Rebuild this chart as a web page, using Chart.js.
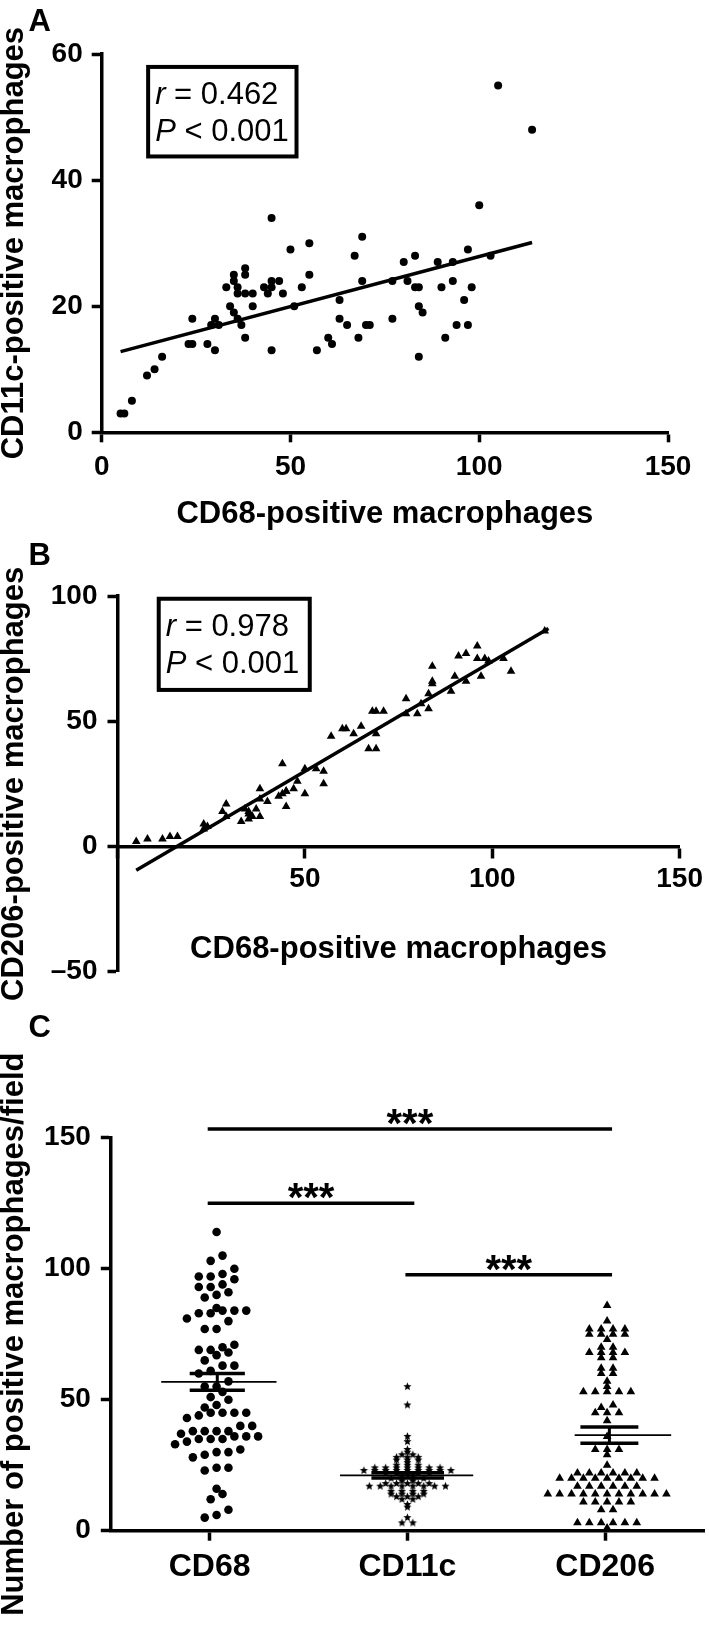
<!DOCTYPE html>
<html>
<head>
<meta charset="utf-8">
<script src="https://cdn.jsdelivr.net/npm/chart.js@4.4.1/dist/chart.umd.min.js"></script>
<style>
  html, body { margin:0; padding:0; background:#ffffff; }
  #page { position:relative; width:709px; height:1625px; background:#ffffff; overflow:hidden; }
  #page canvas { position:absolute; left:0; }
</style>
</head>
<body>
<div id="page">
  <canvas id="chartA" width="709" height="545" style="top:0px"></canvas>
  <canvas id="chartB" width="709" height="471" style="top:529px"></canvas>
  <canvas id="chartC" width="709" height="625" style="top:1000px"></canvas>
</div>
<script>
// ================= DATA =================
// Panel A: CD68 (x) vs CD11c (y)
const cd68A = [5,6,8,12,14,16,23,24,24,28,30,29,30,31,33,34,35,35,35,36,36,36,37,38,38,38,38,40,40,43,44,45,45,45,45,47,48,50,51,53,55,55,57,60,61,63,63,65,67,68,69,69,70,71,77,77,80,81,83,83,84,84,84,85,89,90,91,93,93,94,96,97,97,98,100,103,105,114];
const cd11cA = [3,3,5,9,10,12,14,14,18,14,13,17,18,17,23,20,25,24,19,23,22,18,17,26,25,22,15,22,20,23,22,34,24,23,13,24,22,29,20,23,30,25,13,15,14,21,18,17,28,15,31,24,17,17,24,18,27,24,28,23,23,20,12,19,27,23,15,27,24,17,21,29,17,23,36,28,55,48];
const regAx = [5, 114];
const regAy = [12.8, 30.1];
const statA = [['r', ' = 0.462'], ['P', ' < 0.001']];

// Panel B: CD68 (x) vs CD206 (y)
const cd68B = [5,8,12,14,16,23,23,24,28,29,29,33,34,35,35,35,36,37,38,38,38,40,43,44,44,45,45,45,47,48,50,50,53,55,55,57,60,61,63,65,67,68,69,69,69,71,77,77,80,81,83,83,84,84,84,89,90,91,93,93,96,96,97,98,99,103,105,114];
const cd206B = [2,3,3,4,4,9,7,8,14,17,12,10,15,13,11,14,12,15,23,12,19,18,20,21,33,22,16,22,23,26,21,31,31,30,25,44,47,47,45,48,39,54,39,45,54,54,59,53,53,57,55,61,72,65,66,62,68,76,66,77,75,80,68,75,74,75,70,86];
const regBx = [5, 115];
const regBy = [-9.5, 87];
const statB = [['r', ' = 0.978'], ['P', ' < 0.001']];

// Panel C: counts per field
const categories = ['CD68', 'CD11c', 'CD206'];
const cd206C = [86,80,77,77,77,77,75,75,75,75,73,70,70,68,68,68,68,66,66,62,62,60,60,57,55,53,53,53,53,53,48,47,45,45,45,42,36,31,31,31,29,25,22,22,22,22,22,22,20,20,20,20,20,20,20,20,20,17,17,17,17,17,17,14,14,14,14,14,14,14,14,14,14,14,11,11,11,11,11,8,8,3,3,3,3,3,3,1];
const columnValues = [cd68A, cd11cA, cd206C];
const means = [56.8, 21.1, 36.5];
const sems = [3.2, 1.0, 3.1];
const sigFrom = [0, 0, 1];
const sigTo = [2, 1, 2];
const sigY = [153.3, 125, 97.7];
const sigText = ['***', '***', '***'];

// Axis titles
const xTitleAB = 'CD68-positive macrophages';
const yTitleA = 'CD11c-positive macrophages';
const yTitleB = 'CD206-positive macrophages';
const yTitleC = 'Number of positive macrophages/field';

// ================= STYLE =================
const FONT = "'Liberation Sans', Arial, Helvetica, sans-serif";
const NARROW = "'Liberation Sans Narrow', 'Arial Narrow', 'Liberation Sans', Arial, sans-serif";
Chart.defaults.font.family = FONT;
Chart.defaults.color = '#000';

const boxA = [12.3, 51.6, 57.95, 43.75];   // x0, x1, yTop, yBottom (data units)
const boxB = [11.0, 51.3, 98.9, 62.5];
const meanExt = [[-0.245, 0.338], [-0.341, 0.333], [-0.154, 0.334]];
const semExt = [[-0.101, 0.178], [-0.182, 0.185], [-0.125, 0.168]];
const swarmShift = [0.035, 0, 0.01];
const swarmBin = [3.5, 1, 1.5];
const swarmGap = [0.06, 0.055, 0.06];
const sigExt = [-0.01, 0.035];

const tickFont = {size: 28, weight: 'bold', family: NARROW};

function axisBase(extra) {
  return Object.assign({
    type: 'linear',
    border: {display: true, color: '#000', width: 3.5},
    grid: {display: true, drawOnChartArea: false, drawTicks: true, tickLength: 10, tickWidth: 3.5, tickColor: '#000'},
  }, extra);
}

function makeStar(R) {
  const s = Math.ceil(R * 2 + 2);
  const cv = document.createElement('canvas');
  cv.width = s; cv.height = s;
  const g = cv.getContext('2d');
  g.fillStyle = '#000';
  g.beginPath();
  for (let i = 0; i < 10; i++) {
    const r = i % 2 ? R * 0.45 : R;
    const a = -Math.PI / 2 + i * Math.PI / 5;
    g.lineTo(s / 2 + r * Math.cos(a), s / 2 + r * Math.sin(a));
  }
  g.closePath();
  g.fill();
  return cv;
}

function textPlugin(fn) {
  return {id: 'figText', afterDraw(chart) { const c = chart.ctx; c.save(); fn(chart, c); c.restore(); }};
}
function put(c, s, x, y, font, align, rot) {
  c.save();
  c.translate(x, y);
  if (rot) c.rotate(rot);
  c.font = font; c.fillStyle = '#000';
  c.textAlign = align || 'center'; c.textBaseline = 'alphabetic';
  c.fillText(s, 0, 0);
  c.restore();
}
function statBox(c, xs, ys, box, lines) {
  const L = xs.getPixelForValue(box[0]), R = xs.getPixelForValue(box[1]);
  const T = ys.getPixelForValue(box[2]), B = ys.getPixelForValue(box[3]);
  c.lineWidth = 4; c.strokeStyle = '#000';
  c.strokeRect(L, T, R - L, B - T);
  lines.forEach((ln, i) => {
    let x = L + 7;
    const y = T + 37.5 + i * 37;
    c.fillStyle = '#000'; c.textAlign = 'left'; c.textBaseline = 'alphabetic';
    c.font = 'italic 31px ' + FONT;
    c.fillText(ln[0], x, y);
    x += c.measureText(ln[0]).width;
    c.font = '31px ' + FONT;
    c.fillText(ln[1], x, y);
  });
}

const titleFont = 'bold 31px ' + FONT;
const letterFont = 'bold 31px ' + FONT;

function lineDS(xs, ys, w) {
  return {data: xs.map((x, i) => ({x, y: ys[i]})), showLine: true, borderColor: '#000', backgroundColor: '#000',
          borderWidth: w, pointRadius: 0, clip: false, order: 1, borderCapStyle: 'butt'};
}

const commonOpts = {
  responsive: false, animation: false, events: [],
  plugins: {legend: {display: false}, tooltip: {enabled: false}},
};

// ================= PANEL A =================
new Chart(document.getElementById('chartA'), {
  type: 'scatter',
  data: {datasets: [
    lineDS(regAx, regAy, 3.5),
    {data: cd68A.map((x, i) => ({x, y: cd11cA[i]})), pointStyle: 'circle', pointRadius: 4,
     backgroundColor: '#000', borderWidth: 0, clip: false, order: 2}
  ]},
  options: Object.assign({}, commonOpts, {
    layout: {padding: {top: 54, right: 41, bottom: 0, left: 0}},
    scales: {
      x: axisBase({min: 0, max: 150, ticks: {stepSize: 50, font: tickFont, color: '#000', padding: 8, maxRotation: 0, autoSkip: false},
                   afterFit(s) { s.height = 545 - 432.3; }}),
      y: axisBase({min: 0, max: 60, ticks: {stepSize: 20, font: tickFont, color: '#000', padding: 9, autoSkip: false},
                   afterFit(s) { s.width = 101.7; }})
    }
  }),
  plugins: [textPlugin((chart, c) => {
    const ca = chart.chartArea, xs = chart.scales.x, ys = chart.scales.y;
    put(c, 'A', 28.5, 31, letterFont, 'left');
    put(c, yTitleA, 22.5, (ca.top + ca.bottom) / 2, titleFont, 'center', -Math.PI / 2);
    put(c, xTitleAB, (ca.left + ca.right) / 2, ca.bottom + 91, titleFont, 'center');
    statBox(c, xs, ys, boxA, statA);
  })]
});

// ================= PANEL B =================
new Chart(document.getElementById('chartB'), {
  type: 'scatter',
  data: {datasets: [
    lineDS(regBx, regBy, 3.5),
    {data: cd68B.map((x, i) => ({x, y: cd206B[i]})), pointStyle: 'triangle', pointRadius: 5,
     backgroundColor: '#000', borderWidth: 0, clip: false, order: 2}
  ]},
  options: Object.assign({}, commonOpts, {
    layout: {padding: {top: 67, right: 25, bottom: 471 - 442.7, left: 0}},
    scales: {
      x: axisBase({position: {y: 0}, min: 0, max: 150,
                   ticks: {stepSize: 50, font: tickFont, color: '#000', padding: 6, maxRotation: 0, autoSkip: false,
                           callback: (v) => v === 0 ? '' : String(v)}}),
      y: axisBase({min: -50, max: 100,
                   ticks: {stepSize: 50, font: tickFont, color: '#000', padding: 10, autoSkip: false,
                           callback: (v) => v < 0 ? '\u2013' + Math.abs(v) : String(v)},
                   afterFit(s) { s.width = 117.5; }})
    }
  }),
  plugins: [textPlugin((chart, c) => {
    const ca = chart.chartArea, xs = chart.scales.x, ys = chart.scales.y;
    put(c, 'B', 28.5, 35.5, letterFont, 'left');
    put(c, yTitleB, 22.5, (ca.top + ca.bottom) / 2, titleFont, 'center', -Math.PI / 2);
    put(c, xTitleAB, (ca.left + ca.right) / 2, ys.getPixelForValue(0) + 111.6, titleFont, 'center');
    statBox(c, xs, ys, boxB, statB);
  })]
});

// ================= PANEL C =================
function swarm(values, center, bin, gap) {
  const sorted = values.slice().sort((a, b) => a - b);
  const pts = [];
  let i = 0;
  while (i < sorted.length) {
    const start = sorted[i];
    const row = [];
    while (i < sorted.length && sorted[i] < start + bin) { row.push(sorted[i]); i++; }
    const n = row.length;
    row.forEach((v, k) => pts.push({x: center + (k - (n - 1) / 2) * gap, y: v}));
  }
  return pts;
}

const starImg = makeStar(4.3);
const colStyles = [
  {pointStyle: 'circle', pointRadius: 4.3},
  {pointStyle: starImg, pointRadius: 4},
  {pointStyle: 'triangle', pointRadius: 5},
];

const dsC = [];
columnValues.forEach((vals, g) => {
  const c0 = g + 0.5;
  dsC.push(Object.assign({data: swarm(vals, c0 + swarmShift[g], swarmBin[g], swarmGap[g]),
    backgroundColor: '#000', borderColor: '#000', borderWidth: 0, clip: false, order: 3}, colStyles[g]));
  dsC.push(lineDS([c0 + meanExt[g][0], c0 + meanExt[g][1]], [means[g], means[g]], 1.8));
  dsC.push(lineDS([c0 + semExt[g][0], c0 + semExt[g][1]], [means[g] + sems[g], means[g] + sems[g]], 3.5));
  dsC.push(lineDS([c0 + semExt[g][0], c0 + semExt[g][1]], [means[g] - sems[g], means[g] - sems[g]], 3.5));
  const mid = c0 + (semExt[g][0] + semExt[g][1]) / 2;
  dsC.push(lineDS([mid, mid], [means[g] - sems[g], means[g] + sems[g]], 3));
});
sigFrom.forEach((f, k) => {
  dsC.push(lineDS([f + 0.5 + sigExt[0], sigTo[k] + 0.5 + sigExt[1]], [sigY[k], sigY[k]], 3.5));
});

new Chart(document.getElementById('chartC'), {
  type: 'scatter',
  data: {datasets: dsC},
  options: Object.assign({}, commonOpts, {
    layout: {padding: {top: 137.7, right: 2, bottom: 0, left: 0}},
    scales: {
      x: axisBase({min: 0, max: 3,
                   afterBuildTicks(s) { s.ticks = categories.map((_, i) => ({value: i + 0.5})); },
                   ticks: {font: {size: 32, weight: 'bold', family: FONT}, color: '#000', padding: 7, maxRotation: 0, autoSkip: false,
                           callback: (v) => categories[Math.round(v - 0.5)]},
                   afterFit(s) { s.height = 625 - 530.7; }}),
      y: axisBase({min: 0, max: 150,
                   ticks: {stepSize: 50, font: tickFont, color: '#000', padding: 10, autoSkip: false},
                   afterFit(s) { s.width = 110.8; }})
    }
  }),
  plugins: [textPlugin((chart, c) => {
    const ca = chart.chartArea, xs = chart.scales.x, ys = chart.scales.y;
    put(c, 'C', 28.5, 37, letterFont, 'left');
    put(c, yTitleC, 22.5, (ca.top + ca.bottom) / 2, titleFont, 'center', -Math.PI / 2);
    sigFrom.forEach((f, k) => {
      const x0 = xs.getPixelForValue(f + 0.5 + sigExt[0]);
      const x1 = xs.getPixelForValue(sigTo[k] + 0.5 + sigExt[1]);
      put(c, sigText[k], (x0 + x1) / 2, ys.getPixelForValue(sigY[k]) + 8, 'bold 40px ' + FONT, 'center');
    });
  })]
});
</script>
</body>
</html>
